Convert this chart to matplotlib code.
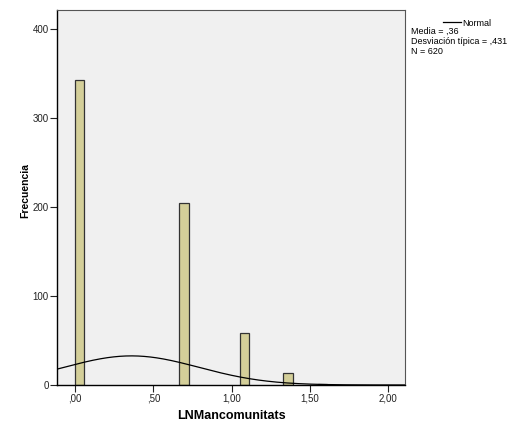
import numpy as np
import matplotlib
matplotlib.use("Agg")
import matplotlib.pyplot as plt

# Data
bin_lefts = [0.00, 0.665, 1.053, 1.329, 1.55]
counts = [343, 204, 58, 14, 1]
bin_width = 0.06
mean_val = 0.36
sd_val = 0.431
n_val = 620
curve_bw = 0.057
xticks = [0.0, 0.5, 1.0, 1.5, 2.0]
xticklabels = [",00", ",50", "1,00", "1,50", "2,00"]
yticks = [0, 100, 200, 300, 400]

plt.rcParams['font.family'] = ['Liberation Sans', 'DejaVu Sans']

fig = plt.figure(figsize=(5.09, 4.23), dpi=100)
W, H = 509, 423
ax = fig.add_axes([57/W, 1 - 385/H, (405-57)/W, (385-10)/H])
ax.set_facecolor('#F0F0F0')

ax.bar(bin_lefts, counts, width=bin_width, align='edge',
       color='#D4CF99', edgecolor='#333333', linewidth=0.9, zorder=2)

xlim = (-0.115, 2.106)
xs = np.linspace(xlim[0], xlim[1], 400)
ys = n_val * curve_bw / (sd_val * np.sqrt(2 * np.pi)) * np.exp(-0.5 * ((xs - mean_val) / sd_val) ** 2)
ax.plot(xs, ys, color='black', linewidth=0.9, zorder=3)

ax.set_xlim(*xlim)
ax.set_ylim(0, 400 * (375/356))
ax.set_xticks(xticks)
ax.set_xticklabels(xticklabels)
ax.set_yticks(yticks)
ax.tick_params(axis='both', direction='out', length=5, width=0.8, labelsize=7,
               colors='#222222')
ax.tick_params(axis='y', pad=1)
ax.tick_params(axis='x', pad=1)
for s in ['left', 'bottom']:
    ax.spines[s].set_color('black')
    ax.spines[s].set_linewidth(1.0)
for s in ['top', 'right']:
    ax.spines[s].set_color('#555555')
    ax.spines[s].set_linewidth(0.8)

fig.text(231/W, 1 - 416/H, 'LNMancomunitats', fontsize=9, fontweight='bold',
         ha='center', va='center')
fig.text(25/W, 1 - 190.5/H, 'Frecuencia', fontsize=7.5, fontweight='bold',
         ha='center', va='center', rotation=90)

# Legend-like annotation
fig.add_artist(plt.Line2D([443/W, 461/W], [1 - 22/H, 1 - 22/H], color='black', linewidth=0.9))
fig.text(462/W, 1 - 25.5/H, 'Normal', fontsize=6.5, va='baseline', ha='left')
fig.text(411/W, 1 - 34/H, 'Media = ,36', fontsize=6.5, va='baseline', ha='left')
fig.text(411/W, 1 - 44/H, 'Desviación típica = ,431', fontsize=6.5, va='baseline', ha='left')
fig.text(411/W, 1 - 54/H, 'N = 620', fontsize=6.5, va='baseline', ha='left')

fig.savefig('out.png', dpi=100, facecolor='white')
